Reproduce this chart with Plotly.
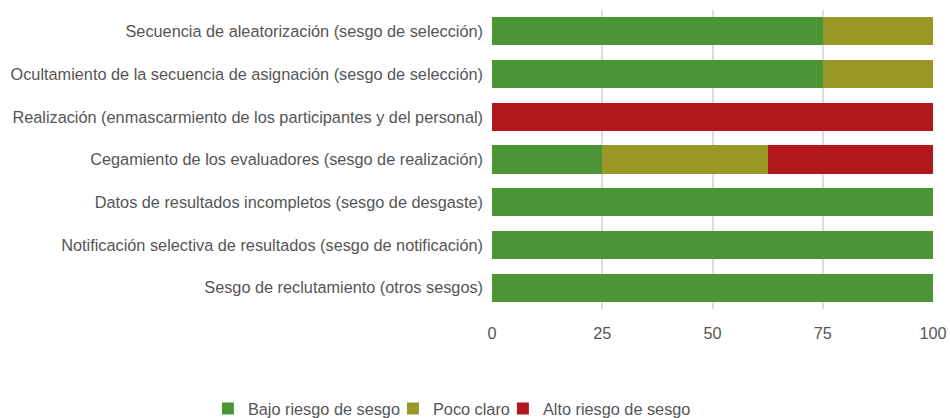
import plotly.graph_objects as go

categories = [
    "Secuencia de aleatorización (sesgo de selección)",
    "Ocultamiento de la secuencia de asignación (sesgo de selección)",
    "Realización (enmascarmiento de los participantes y del personal)",
    "Cegamiento de los evaluadores (sesgo de realización)",
    "Datos de resultados incompletos (sesgo de desgaste)",
    "Notificación selectiva de resultados (sesgo de notificación)",
    "Sesgo de reclutamiento (otros sesgos)",
]
bajo = [75, 75, 0, 25, 100, 100, 100]
poco = [25, 25, 0, 37.5, 0, 0, 0]
alto = [0, 0, 100, 37.5, 0, 0, 0]
series_names = ["Bajo riesgo de sesgo", "Poco claro", "Alto riesgo de sesgo"]
colors = ["#4c9537", "#999826", "#b2171d"]
tick_vals = [0, 25, 50, 75, 100]

fig = go.Figure()
for name, vals, col in zip(series_names, [bajo, poco, alto], colors):
    fig.add_trace(go.Bar(
        y=categories, x=vals, name=name, orientation="h",
        marker=dict(color=col, line=dict(width=0)),
    ))

font_fam = "Liberation Sans, Arial, sans-serif"
txt_col = "#555555"
fs = 16.3
fig.update_layout(
    barmode="stack",
    bargap=0.344,
    width=950, height=418,
    margin=dict(l=492, r=17, t=10, b=109, autoexpand=False),
    plot_bgcolor="white", paper_bgcolor="white",
    font=dict(family=font_fam, size=fs, color=txt_col),
    showlegend=True,
    legend=dict(
        orientation="h", xref="paper", yref="paper",
        x=-0.617, xanchor="left", y=-0.334, yanchor="middle",
        font=dict(size=fs, color=txt_col), traceorder="normal",
        itemwidth=30, tracegroupgap=0, indentation=-12,
    ),
    xaxis=dict(
        range=[0, 100], tickvals=tick_vals, showgrid=True,
        gridcolor="#dcdcdc", gridwidth=1.5, zeroline=False,
        showline=False, ticks="", ticklabelstandoff=13,
        automargin=False,
        tickfont=dict(size=fs, color=txt_col),
    ),
    yaxis=dict(
        autorange="reversed", showgrid=False, showline=False,
        ticks="", ticklabelstandoff=8, automargin=False,
        tickfont=dict(size=fs, color=txt_col),
    ),
)
fig.write_html("out.html", config={"displayModeBar": False},
               post_script="document.body.style.margin='0';")
